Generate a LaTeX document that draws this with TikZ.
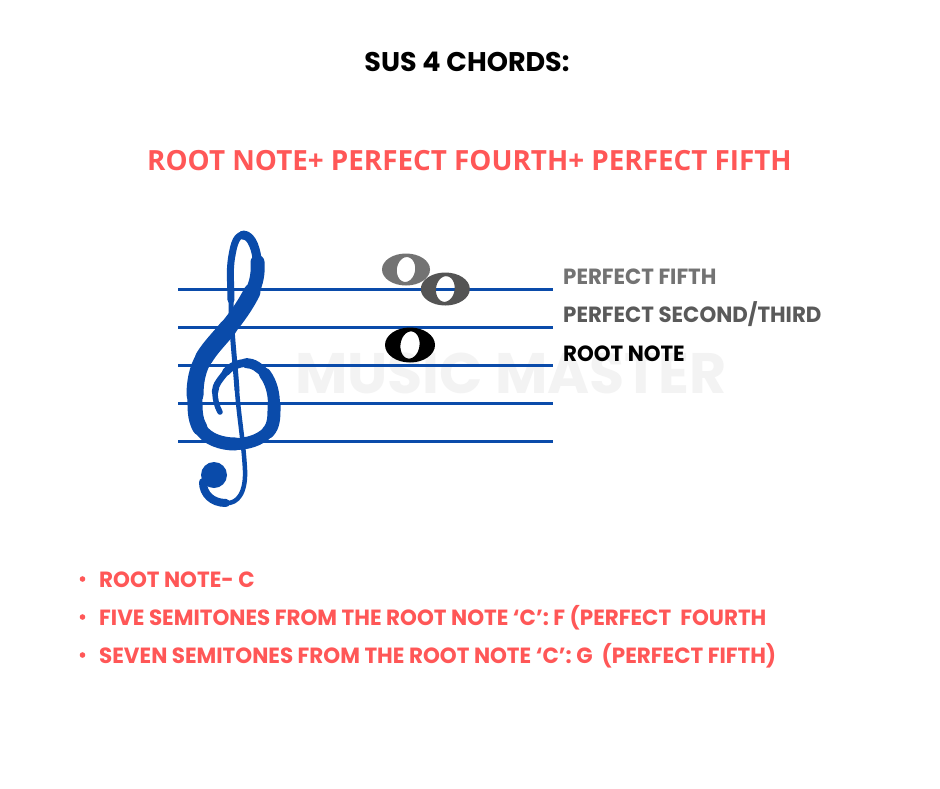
\documentclass[tikz,border=0pt]{standalone}
\usepackage{fontspec}
\setmainfont{Poppins}
\newfontfamily\titlefont{Poppins}
\newfontfamily\labelfont[FakeStretch=0.97]{Poppins}
\newfontfamily\subfont{Open Sans}
\newfontfamily\bulfont[FakeStretch=0.975]{Poppins}
\definecolor{staffblue}{HTML}{0A4BAA}
\definecolor{redtxt}{HTML}{FF5757}
\definecolor{greyA}{HTML}{737373}
\definecolor{greyB}{HTML}{5A5A5A}
\definecolor{noteA}{HTML}{737373}
\definecolor{noteB}{HTML}{545454}
\definecolor{wmark}{HTML}{F3F3F3}
\newcommand\wholenote[5]{%
  \fill[#5, even odd rule] (#1,#2) ellipse [x radius=#3/2, y radius=#4/2]
    plot[smooth cycle, samples=36, domain=0:350, variable=\t]
    ({#1+0.19*#3*cos(\t)*cos(8)+0.39*#4*sin(\t)*sin(8)},
     {#2+0.19*#3*cos(\t)*sin(8)-0.39*#4*sin(\t)*cos(8)});}
\begin{document}
\begin{tikzpicture}[x=1pt,y=-1pt,
  staffline/.style={draw=staffblue, line width=3pt},
  clefstroke/.style={draw=staffblue, line cap=round, line join=round},
  titletext/.style={inner sep=0, anchor=base, font=\titlefont\bfseries\fontsize{27}{30}\selectfont},
  subtext/.style={inner sep=0, anchor=base, text=redtxt, font=\subfont\bfseries\fontsize{27.8}{32}\selectfont},
  labeltext/.style={inner sep=0, anchor=base west, font=\labelfont\bfseries\fontsize{22}{26}\selectfont},
  bullettext/.style={inner sep=0, anchor=base west, text=redtxt, font=\bulfont\bfseries\fontsize{22}{26}\selectfont},
  bulletdot/.style={circle, fill=redtxt, inner sep=0, minimum size=5.6pt}]
\fill[white] (0,0) rectangle (940,788);
\useasboundingbox (0,0) rectangle (940,788);
% watermark
\node[inner sep=0, anchor=base west, text=wmark, font=\titlefont\bfseries\fontsize{57}{60}\selectfont] (wm) at (295,393) {MUSIC MASTER};
% title
\node[titletext] (title) at (467,71.7) {SUS 4 CHORDS:};
\node[subtext] (sub) at (469.5,170) {ROOT NOTE+ PERFECT FOURTH+ PERFECT FIFTH};
% staff
\foreach \y in {289,327.3,365.7,403.5,441.7}
  \draw[staffline] (178,\y) -- (553,\y);
% treble clef
\begin{scope}
% stem and top loop left side
\draw[clefstroke, line width=7pt] (243,235) .. controls (234.8,235) and (233,250) .. (231.5,258)
  .. controls (229.3,271.7) and (231,286) .. (231,300);
\draw[clefstroke, line width=5pt] (231,300) .. controls (231,330) and (235,360) .. (237,390);
\draw[clefstroke, line width=4.5pt] (237,390) .. controls (238.8,416.7) and (243.7,443.2) .. (245,470)
  .. controls (246,492) and (238,504) .. (226,503);
\draw[clefstroke, line width=8pt] (226,503) .. controls (212,503) and (203,494) .. (203,482);
\fill[staffblue] (214,475) circle [radius=13];
% main S stroke
\draw[clefstroke, line width=9pt] (243,235) .. controls (252.8,235) and (256.5,252.2) .. (257.5,262);
\draw[clefstroke, line width=14pt] (257.5,262) .. controls (258.5,272.1) and (256.5,283) .. (252,292);
\draw[clefstroke, line width=17pt] (252,292) .. controls (245.6,304.9) and (237,316.8) .. (228,328);
\draw[clefstroke, line width=18pt] (228,328) .. controls (220,338) and (210.6,347) .. (204,358);
\draw[clefstroke, line width=17pt] (204,358) .. controls (197.3,369.1) and (195,382) .. (195,395);
\draw[clefstroke, line width=15pt] (195,395) .. controls (195,406.3) and (194.2,418.3) .. (200,428);
\draw[clefstroke, line width=13pt] (200,428) .. controls (206.8,439.4) and (221.7,444) .. (235,444);
\draw[clefstroke, line width=12pt] (235,444) .. controls (247.1,444) and (259.4,440.6) .. (268,432);
\draw[clefstroke, line width=13pt] (268,432) .. controls (274.6,425.4) and (274,414.4) .. (274,405);
\draw[clefstroke, line width=12pt] (274,405) .. controls (274,394) and (271.6,382.8) .. (265,374);
\draw[clefstroke, line width=10pt] (265,374) .. controls (260.6,368.2) and (253.3,363) .. (246,363);
\draw[clefstroke, line width=8pt] (246,363) .. controls (238.7,363) and (230.4,366.2) .. (226,372);
\draw[clefstroke, line width=6.5pt] (226,372) .. controls (221.4,378.1) and (215,384.4) .. (215,392);
\draw[clefstroke, line width=5.5pt] (215,392) .. controls (215,398.9) and (216.6,406) .. (220,412);
\end{scope}
% notes
\wholenote{406}{269.5}{48}{32}{noteA}
\wholenote{445.3}{289}{49}{33}{noteB}
\wholenote{410}{345}{50}{35}{black}
% labels
\node[labeltext, text=greyA] (l1) at (563,284) {PERFECT FIFTH};
\node[labeltext, text=greyB] (l2) at (563,322) {PERFECT SECOND/THIRD};
\node[labeltext, text=black] (l3) at (563,361) {ROOT NOTE};
% bullets
\node[bulletdot] (d1) at (82.5,579) {};
\node[bulletdot] (d2) at (82.5,617) {};
\node[bulletdot] (d3) at (82.5,655) {};
\node[bullettext] (b1) at (99,587) {ROOT NOTE- C};
\node[bullettext] (b2) at (99,625) {FIVE SEMITONES FROM THE ROOT NOTE ‘C’: F (PERFECT\ \ FOURTH};
\node[bullettext] (b3) at (99,663) {SEVEN SEMITONES FROM THE ROOT NOTE ‘C’: G\ \ (PERFECT FIFTH)};
\end{tikzpicture}
\end{document}
